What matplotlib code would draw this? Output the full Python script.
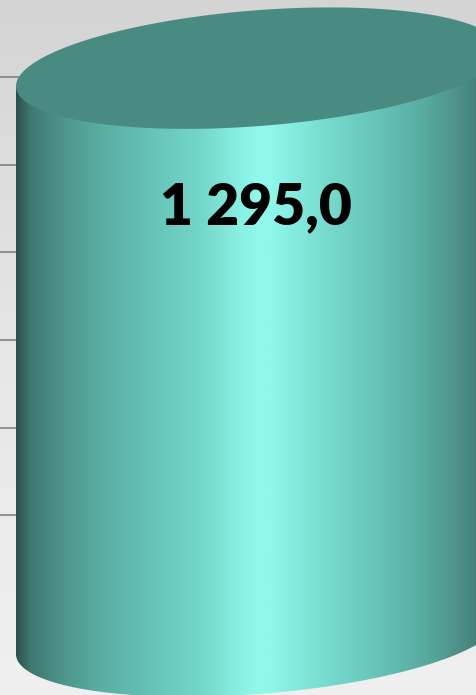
import numpy as np
import matplotlib
matplotlib.use("Agg")
import matplotlib.pyplot as plt
from matplotlib.colors import LinearSegmentedColormap
from matplotlib.patches import Polygon

# Datos del grafico
categories = ["2023"]
values = [1295.0]
labels = ["1 295,0"]
grid_ticks = [275, 475, 675, 875, 1075, 1275]

# Escala aproximada (px por unidad) para que el cilindro encaje en la figura
PX_Y = 0.4385
PX_X = 605.0
BAR_W = 0.8
BASE_PX = 636  # fila de pixel donde cae el valor 0


def ellipse_pts(cx, cy, a, b, shear, t):
    x = cx + a * np.cos(t)
    y = cy + b * np.sin(t) + shear * (x - cx)
    return x, y


def draw_cylinder(ax, xc, value, label):
    a = BAR_W / 2
    b = 58 / PX_Y
    shear = (18 / PX_Y) / a

    # lado visible: linea recta arriba (queda tapada) + arco frontal de la base
    t = np.linspace(0, -np.pi, 300)
    bx, by = ellipse_pts(xc, 0, a, b, shear, t)
    tx0, ty0 = ellipse_pts(xc, value, a, b, shear, np.array([np.pi, 0.0]))
    side = np.column_stack([np.r_[tx0[0], tx0[1], bx], np.r_[ty0[0], ty0[1], by]])
    side_patch = Polygon(side, closed=True, facecolor="none", edgecolor="none")
    ax.add_patch(side_patch)

    cmap = LinearSegmentedColormap.from_list(
        "cyl",
        [
            (0.0, "#2c524d"),
            (0.029, "#3f7870"),
            (0.091, "#4e9389"),
            (0.174, "#5aaea3"),
            (0.277, "#66c3b7"),
            (0.38, "#74d6c9"),
            (0.452, "#86ede0"),
            (0.494, "#8ff8ea"),
            (0.525, "#8ff8ea"),
            (0.566, "#85eee0"),
            (0.649, "#76d9cc"),
            (0.752, "#66c3b7"),
            (0.835, "#5aaea3"),
            (0.917, "#4e9188"),
            (1.0, "#3a6c65"),
        ],
    )
    grad = np.linspace(0, 1, 512).reshape(1, -1)
    img = ax.imshow(
        grad, cmap=cmap, aspect="auto", interpolation="bilinear",
        extent=(xc - a, xc + a, -3 * b, value + 2 * b), zorder=3,
    )
    img.set_clip_path(side_patch)

    # tapa superior
    t = np.linspace(0, 2 * np.pi, 400)
    ex, ey = ellipse_pts(xc, value, a, b, shear, t)
    ax.add_patch(Polygon(np.column_stack([ex, ey]), closed=True,
                         facecolor="#4a8b81", edgecolor="none", zorder=4))

    ax.text(xc - 0.003, value - 317, label, ha="center", va="center",
            fontsize=41, fontweight="heavy", family=["Lato", "DejaVu Sans"],
            color="black", zorder=5)


fig = plt.figure(figsize=(4.76, 6.95), dpi=100)
ax = fig.add_axes([0, 0, 1, 1])
ylim = (-(695 - BASE_PX) / PX_Y, BASE_PX / PX_Y)
xlim = (-BAR_W / 2 - 16 / PX_X, -BAR_W / 2 + 460 / PX_X)
ax.set_xlim(xlim)
ax.set_ylim(ylim)
ax.axis("off")

# fondo gris degradado
bg = LinearSegmentedColormap.from_list("bg", ["#f0f0f0", "#e6e6e6", "#d4d4d4"])
ax.imshow(np.linspace(0, 1, 256).reshape(-1, 1)[::-1], cmap=bg, aspect="auto",
          extent=(*xlim, *ylim), zorder=0, interpolation="bilinear")

for v in grid_ticks:
    ax.axhline(v, color="#8a8a8a", linewidth=1.3, zorder=1)

for i, (cat, val, lab) in enumerate(zip(categories, values, labels)):
    draw_cylinder(ax, i, val, lab)

fig.savefig("out.png", dpi=100)
